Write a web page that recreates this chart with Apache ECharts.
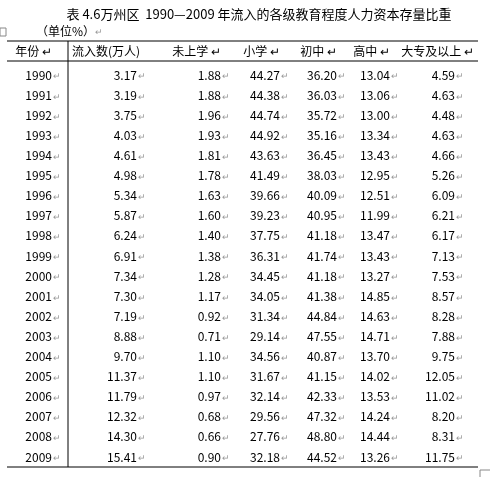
<!DOCTYPE html>
<html><head><meta charset="utf-8">
<script src="https://cdn.jsdelivr.net/npm/echarts@6/dist/echarts.min.js"></script>
<style>html,body{margin:0;padding:0;background:#fff}#c{width:490px;height:477px}</style>
</head><body><div id="c"></div>
<script>
const years = ['1990','1991','1992','1993','1994','1995','1996','1997','1998','1999','2000','2001','2002','2003','2004','2005','2006','2007','2008','2009'];
const headers = ['年份','流入数(万人)','未上学','小学','初中','高中','大专及以上'];
const inflow = [3.17,3.19,3.75,4.03,4.61,4.98,5.34,5.87,6.24,6.91,7.34,7.30,7.19,8.88,9.70,11.37,11.79,12.32,14.30,15.41];
const noSchool = [1.88,1.88,1.96,1.93,1.81,1.78,1.63,1.60,1.40,1.38,1.28,1.17,0.92,0.71,1.10,1.10,0.97,0.68,0.66,0.90];
const primary = [44.27,44.38,44.74,44.92,43.63,41.49,39.66,39.23,37.75,36.31,34.45,34.05,31.34,29.14,34.56,31.67,32.14,29.56,27.76,32.18];
const junior = [36.20,36.03,35.72,35.16,36.45,38.03,40.09,40.95,41.18,41.74,41.18,41.38,44.84,47.55,40.87,41.15,42.33,47.32,48.80,44.52];
const senior = [13.04,13.06,13.00,13.34,13.43,12.95,12.51,11.99,13.47,13.43,13.27,14.85,14.63,14.71,13.70,14.02,13.53,14.24,14.44,13.26];
const college = [4.59,4.63,4.48,4.63,4.66,5.26,6.09,6.21,6.17,7.13,7.53,8.57,8.28,7.88,9.75,12.05,11.02,8.20,8.31,11.75];

// layout (pixel-like x positions of column right edges)
const colRight = [52,137,221,280,337,390,455];
const cols = [inflow,noSchool,primary,junior,senior,college];
const data = [], labels = [];
years.forEach((y,i)=>{
  data.push([colRight[0],i]); labels.push(y);
  cols.forEach((c,k)=>{data.push([colRight[k+1],i]); labels.push(c[i].toFixed(2));});
});
const font = '"Noto Sans CJK SC", sans-serif';
const chart = echarts.init(document.getElementById('c'));
const headerRight = [52,140,221,280,337,390,474];
chart.setOption({
  animation:false,
  title:{text:'表 4.6万州区  1990—2009 年流入的各级教育程度人力资本存量比重',left:254,textAlign:'center',top:3,
    textStyle:{fontFamily:font,fontSize:13,fontWeight:'normal',color:'#000'}},
  grid:{left:0,right:0,top:65,bottom:10},
  xAxis:{type:'value',min:0,max:490,show:false},
  yAxis:{type:'category',data:years,inverse:true,show:false},
  series:[{
    type:'custom',
    data:data,
    renderItem:(p,api)=>{
      const pt = api.coord([api.value(0),api.value(1)]);
      return {type:'group',children:[
        {type:'text',x:pt[0],y:pt[1],style:{text:labels[p.dataIndex],align:'right',verticalAlign:'middle',font:'12px '+font,fill:'#000'}},
        {type:'text',x:pt[0]+1,y:pt[1]+1,style:{text:'↵',align:'left',verticalAlign:'middle',font:'9px '+font,fill:'#999'}}
      ]};
    },
    encode:{x:0,y:1}
  }],
  graphic:[
    {type:'text',left:36,top:25,style:{text:'（单位%）',font:'12px '+font,fill:'#000'}},
    {type:'text',left:95,top:27,style:{text:'↵',font:'9px '+font,fill:'#999'}},
    {type:'rect',shape:{x:0,y:28,width:6,height:8},style:{fill:'#fff',stroke:'#888',lineWidth:1}},
    {type:'line',shape:{x1:7,y1:41,x2:478,y2:41},style:{stroke:'#000',lineWidth:1}},
    {type:'line',shape:{x1:7,y1:61,x2:478,y2:61},style:{stroke:'#000',lineWidth:1}},
    {type:'line',shape:{x1:7,y1:467,x2:478,y2:467},style:{stroke:'#000',lineWidth:1}},
    {type:'line',shape:{x1:68,y1:41,x2:68,y2:467},style:{stroke:'#000',lineWidth:1}},
    {type:'polyline',shape:{points:[[480,478],[480,470],[490,470]]},style:{stroke:'#888',fill:null,lineWidth:1}},
    ...headers.map((h,i)=>({type:'text',x:headerRight[i],y:51,style:{text:h+(i===1?'':' ↵'),align:'right',verticalAlign:'middle',font:'12px '+font,fill:'#000'}}))
  ]
});
</script></body></html>
